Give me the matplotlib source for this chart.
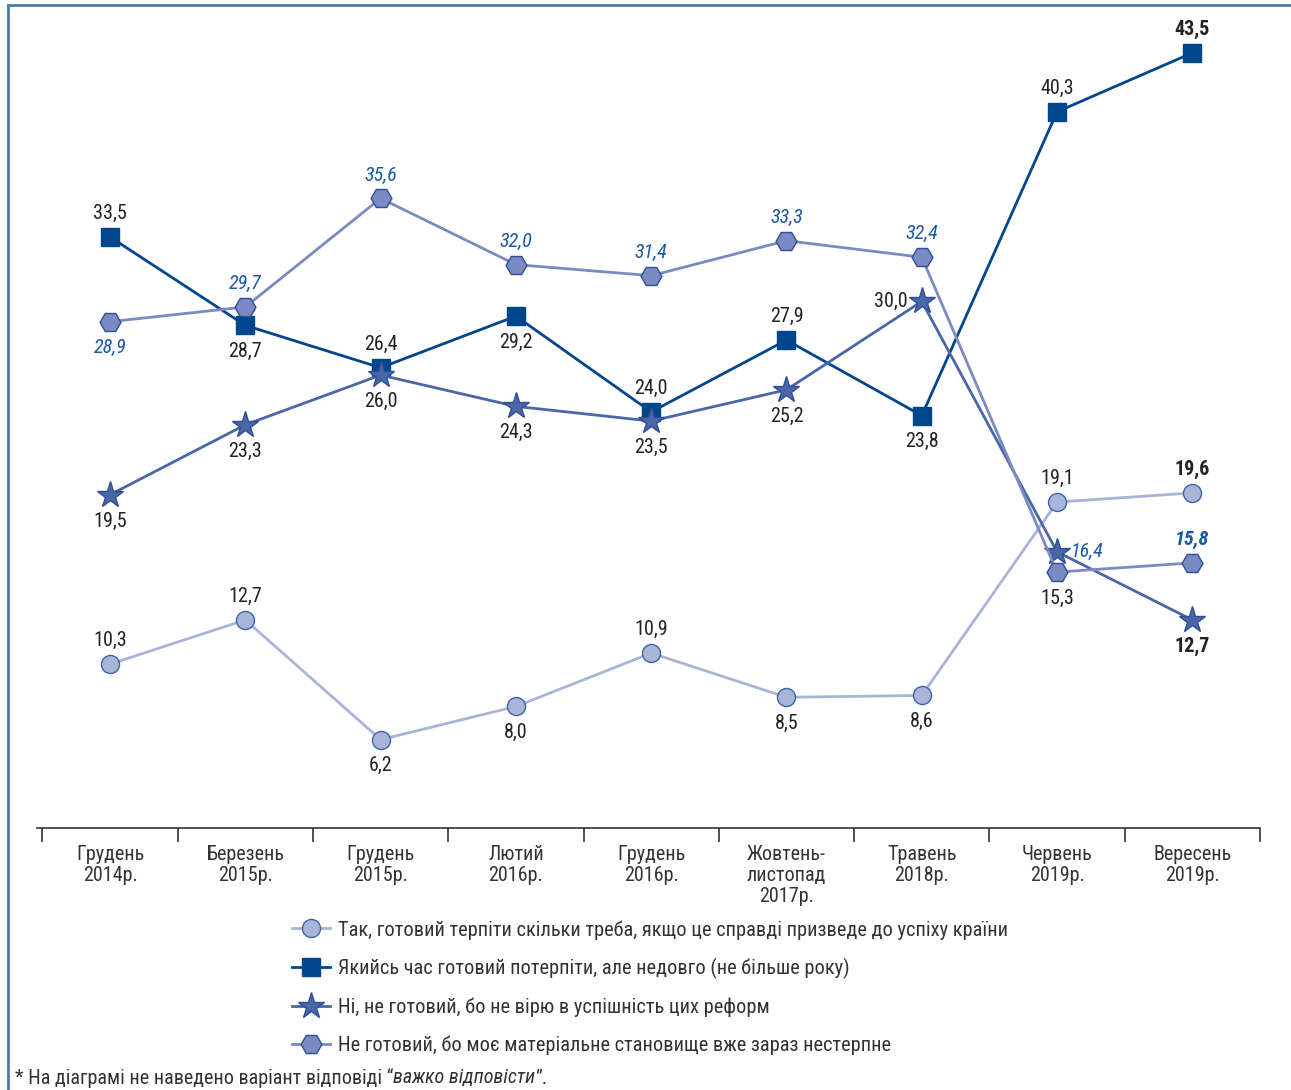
import matplotlib
matplotlib.use("Agg")
import matplotlib.pyplot as plt
from matplotlib.lines import Line2D

plt.rcParams['font.family'] = ['Roboto Condensed', 'Liberation Sans', 'DejaVu Sans']

# Data
categories = ["Грудень\n2014р.", "Березень\n2015р.", "Грудень\n2015р.", "Лютий\n2016р.",
              "Грудень\n2016р.", "Жовтень-\nлистопад\n2017р.", "Травень\n2018р.",
              "Червень\n2019р.", "Вересень\n2019р."]
series_names = [
    "Так, готовий терпіти скільки треба, якщо це справді призведе до успіху країни",
    "Якийсь час готовий потерпіти, але недовго (не більше року)",
    "Ні, не готовий, бо не вірю в успішність цих реформ",
    "Не готовий, бо моє матеріальне становище вже зараз нестерпне",
]
tak = [10.3, 12.7, 6.2, 8.0, 10.9, 8.5, 8.6, 19.1, 19.6]
deyakyi = [33.5, 28.7, 26.4, 29.2, 24.0, 27.9, 23.8, 40.3, 43.5]
ni = [19.5, 23.3, 26.0, 24.3, 23.5, 25.2, 30.0, 16.4, 12.7]
ne_gotovyi = [28.9, 29.7, 35.6, 32.0, 31.4, 33.3, 32.4, 15.3, 15.8]

# label placement: a = above, b = below, l = left, r = right
tak_pos = ["a", "a", "b", "b", "a", "b", "b", "a", "a"]
deyakyi_pos = ["a", "b", "a", "b", "a", "a", "b", "a", "a"]
ni_pos = ["b", "b", "b", "b", "b", "b", "l", "r", "b"]
ne_pos = ["b", "a", "a", "a", "a", "a", "a", "b", "a"]

DARK = "#222222"
BLUE_TXT = "#1b5aa3"

styles = [
    dict(color="#a8b5d8", marker="o", ms=13, mfc="#a8b5d8", mec="#3d64a8", mew=1.0),
    dict(color="#00468c", marker="s", ms=13, mfc="#00468c", mec="#00468c", mew=1.0),
    dict(color="#4a66a8", marker="*", ms=20, mfc="#4a66a8", mec="#2f4f94", mew=1.0),
    dict(color="#7a8ac2", marker="H", ms=15, mfc="#7a8ac2", mec="#2f4f94", mew=1.0),
]
# per-series text style (color, italic); last point of each series is bold
txt_style = [(DARK, "normal"), (DARK, "normal"), (DARK, "normal"), (BLUE_TXT, "italic")]

fig = plt.figure(figsize=(12.91, 10.9), dpi=100)
ax = fig.add_axes([37 / 1291, (1090 - 828) / 1090, (1260 - 37) / 1291, (828 - 5) / 1090])

x = list(range(len(categories)))
all_data = [tak, deyakyi, ni, ne_gotovyi]
all_pos = [tak_pos, deyakyi_pos, ni_pos, ne_pos]

for i, (vals, st) in enumerate(zip(all_data, styles)):
    ax.plot(x, vals, lw=2.0, label=series_names[i], zorder=3 + i, **st)

offs = {"a": (0, 10, "center", "bottom"), "b": (0, -12, "center", "top"),
        "l": (-10, 0, "right", "center"), "r": (10, 0, "left", "center")}
for i, (vals, pos) in enumerate(zip(all_data, all_pos)):
    col, sty = txt_style[i]
    for j, (v, p) in enumerate(zip(vals, pos)):
        c, s = col, sty
        if i == 3 and j == 7:
            c, s = DARK, "normal"
        if i == 2 and j == 7:
            c, s = BLUE_TXT, "italic"
        w = "bold" if j == len(vals) - 1 else "normal"
        dx, dy, ha, va = offs[p]
        ax.annotate(f"{v:.1f}".replace(".", ","), (j, v), xytext=(dx, dy),
                    textcoords="offset points", ha=ha, va=va, fontsize=14.5,
                    color=c, style=s, weight=w, zorder=10)

ax.set_xlim(-0.54, 8.5)
ax.set_ylim(1.4, 46.1)
for side in ["top", "right", "left"]:
    ax.spines[side].set_visible(False)
ax.spines["bottom"].set_color("#333333")
ax.spines["bottom"].set_linewidth(1.2)
ax.set_yticks([])
ax.set_xticks(x)
ax.set_xticklabels(categories, fontsize=14.5, color="#333333", linespacing=1.15)
ax.tick_params(axis="x", which="major", length=0, pad=12)
ax.set_xticks([k - 0.5 for k in range(len(categories) + 1)], minor=True)
ax.tick_params(axis="x", which="minor", length=10, width=1.2, color="#333333")

leg = fig.legend(loc="upper left", bbox_to_anchor=(292 / 1291, 1 - 920 / 1090),
                 frameon=False, fontsize=14.7, labelspacing=0.9, handlelength=1.85,
                 handletextpad=0.4, borderaxespad=0, borderpad=0)
for t in leg.get_texts():
    t.set_color("#333333")

# frame lines
fig.add_artist(Line2D([8 / 1291, 8 / 1291], [0, 1 - 5 / 1090], color="#4a7ab0", lw=2,
                      transform=fig.transFigure))
fig.add_artist(Line2D([8 / 1291, 1], [1 - 5 / 1090, 1 - 5 / 1090], color="#4a7ab0", lw=2,
                      transform=fig.transFigure))

# footnote
fy = 1 - 1078 / 1090
t1 = fig.text(15 / 1291, fy, "* На діаграмі не наведено варіант відповіді “",
              fontsize=14.5, color="#333333", va="center")
fig.canvas.draw()
bb = t1.get_window_extent()
t2 = fig.text(bb.x1 / 1291, fy, "важко відповісти", fontsize=14.5,
              color="#333333", va="center", style="italic")
bb2 = t2.get_window_extent()
fig.text(bb2.x1 / 1291, fy, "”.", fontsize=14.5, color="#333333", va="center")

fig.savefig("out.png", dpi=100)
